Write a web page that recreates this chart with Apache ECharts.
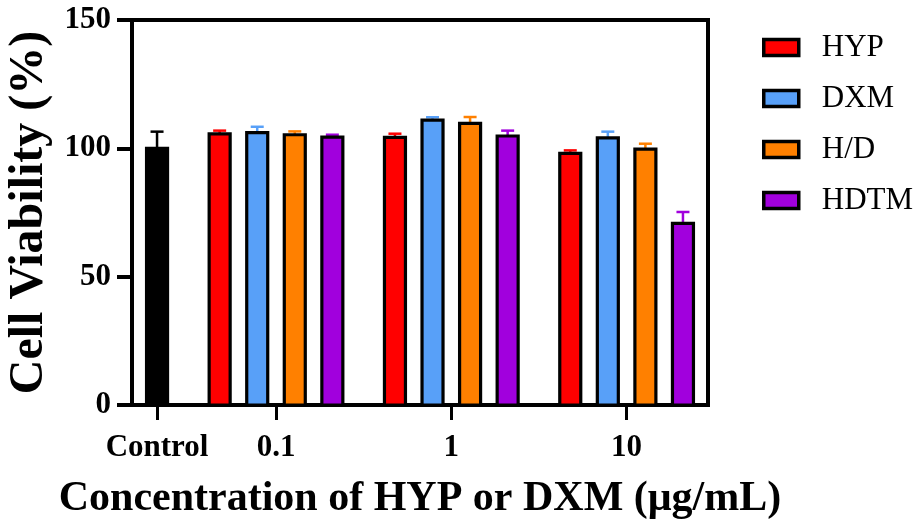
<!DOCTYPE html>
<html>
<head>
<meta charset="utf-8">
<script src="https://cdn.jsdelivr.net/npm/echarts@6.0.0/dist/echarts.min.js"></script>
<style>
  html, body { margin: 0; padding: 0; background: #fff; }
  #chart { width: 919px; height: 525px; }
</style>
</head>
<body>
<div id="chart"></div>
<script>
// categories and groups
var xLabels = ['Control', '0.1', '1', '10'];
var seriesNames = ['HYP', 'DXM', 'H/D', 'HDTM'];
var seriesColors = ['#ff0000', '#58a0f8', '#ff8000', '#a100dd'];

// control bar
var controlMean = 100;
var controlSd = 6.5;

// mean values per series at 0.1, 1, 10
var hypMean = [105.6, 104.3, 98.0];
var dxmMean = [106.1, 111.0, 104.1];
var hdMean = [105.3, 109.7, 99.7];
var hdtmMean = [104.4, 104.8, 70.8];

// upper error (SD)
var hypSd = [1.3, 1.4, 1.2];
var dxmSd = [2.3, 1.1, 2.4];
var hdSd = [1.3, 2.5, 2.1];
var hdtmSd = [0.9, 2.1, 4.4];

var yTicks = [0, 50, 100, 150];

var means = [hypMean, dxmMean, hdMean, hdtmMean];
var sds = [hypSd, dxmSd, hdSd, hdtmSd];

// layout on a hidden numeric x scale: control at 0, groups of 4 bars, 3 units apart
function groupStart(g) { return 5 + 14 * g; }
function barPos(g, i) { return groupStart(g) + 3 * i; }
var tickPos = [0];
for (var g = 0; g < 3; g++) tickPos.push(groupStart(g) + 4.5);

var font = 'Liberation Serif';
var BAR_W = 21;

function renderBar(params, api) {
    var x = api.value(0), y = api.value(1);
    var top = api.coord([x, y]);
    var base = api.coord([x, 0]);
    return {
        type: 'rect',
        shape: { x: top[0] - BAR_W / 2, y: top[1], width: BAR_W, height: base[1] - top[1] },
        style: { fill: api.visual('color'), stroke: '#000', lineWidth: 3.2 }
    };
}

function renderErr(params, api) {
    var x = api.value(0), y = api.value(1), e = api.value(2);
    var p0 = api.coord([x, y]);
    var p1 = api.coord([x, y + e]);
    var c = api.visual('color');
    return {
        type: 'group',
        children: [
            { type: 'line', shape: { x1: p0[0], y1: p0[1], x2: p1[0], y2: p1[1] }, style: { stroke: c, lineWidth: 2.5 } },
            { type: 'line', shape: { x1: p1[0] - 6.5, y1: p1[1], x2: p1[0] + 6.5, y2: p1[1] }, style: { stroke: c, lineWidth: 2.5 } }
        ]
    };
}

var series = [];
series.push({
    name: 'Control', type: 'custom', renderItem: renderErr, z: 1,
    itemStyle: { color: '#000' },
    data: [[0, controlMean, controlSd]]
});
series.push({
    name: 'Control', type: 'custom', renderItem: renderBar, z: 2,
    itemStyle: { color: '#000' },
    data: [[0, controlMean]]
});
seriesNames.forEach(function (name, i) {
    var bars = [], errs = [];
    for (var g = 0; g < 3; g++) {
        bars.push([barPos(g, i), means[i][g]]);
        errs.push([barPos(g, i), means[i][g], sds[i][g]]);
    }
    series.push({
        name: name + ' SD', type: 'custom', renderItem: renderErr, z: 1,
        itemStyle: { color: seriesColors[i] },
        data: errs
    });
    series.push({
        name: name, type: 'custom', renderItem: renderBar, z: 2,
        itemStyle: { color: seriesColors[i], borderColor: '#000', borderWidth: 3 },
        data: bars
    });
});

var chart = echarts.init(document.getElementById('chart'));
chart.setOption({
    animation: false,
    backgroundColor: '#fff',
    grid: {
        left: 132, top: 20, width: 576, height: 385,
        outerBoundsMode: 'none', containLabel: false,
        show: true, borderColor: '#000', borderWidth: 4, backgroundColor: 'transparent'
    },
    legend: {
        data: seriesNames,
        orient: 'vertical',
        left: 757, top: 27,
        icon: 'rect',
        itemWidth: 35, itemHeight: 16,
        itemGap: 20,
        itemStyle: { borderColor: '#000', borderWidth: 3.5 },
        textStyle: { fontFamily: font, fontSize: 31, color: '#000', padding: [0, 0, 0, 18] }
    },
    xAxis: {
        type: 'value', min: -2, max: 44,
        name: 'Concentration of HYP or DXM (\u03bcg/mL)',
        nameLocation: 'middle', nameGap: 73,
        nameTextStyle: { fontFamily: font, fontWeight: 'bold', fontSize: 42, color: '#000' },
        axisLine: { show: true, onZero: false, lineStyle: { color: '#000', width: 4 } },
        axisTick: { show: true, customValues: tickPos, length: 15, lineStyle: { color: '#000', width: 3 } },
        axisLabel: {
            customValues: tickPos, margin: 27,
            fontFamily: font, fontWeight: 'bold', fontSize: 31, color: '#000',
            formatter: function (v) { return xLabels[tickPos.indexOf(v)]; }
        },
        splitLine: { show: false }
    },
    yAxis: {
        type: 'value', min: yTicks[0], max: yTicks[yTicks.length - 1], interval: 50,
        name: 'Cell Viability (%)',
        nameLocation: 'middle', nameGap: 75, nameRotate: 90,
        nameTextStyle: { fontFamily: font, fontWeight: 'bold', fontSize: 48, color: '#000' },
        axisLine: { show: true, onZero: false, lineStyle: { color: '#000', width: 4 } },
        axisTick: { show: true, length: 15, lineStyle: { color: '#000', width: 4 } },
        axisLabel: { margin: 21, fontFamily: font, fontWeight: 'bold', fontSize: 31, color: '#000' },
        splitLine: { show: false }
    },
    series: series
});
</script>
</body>
</html>
